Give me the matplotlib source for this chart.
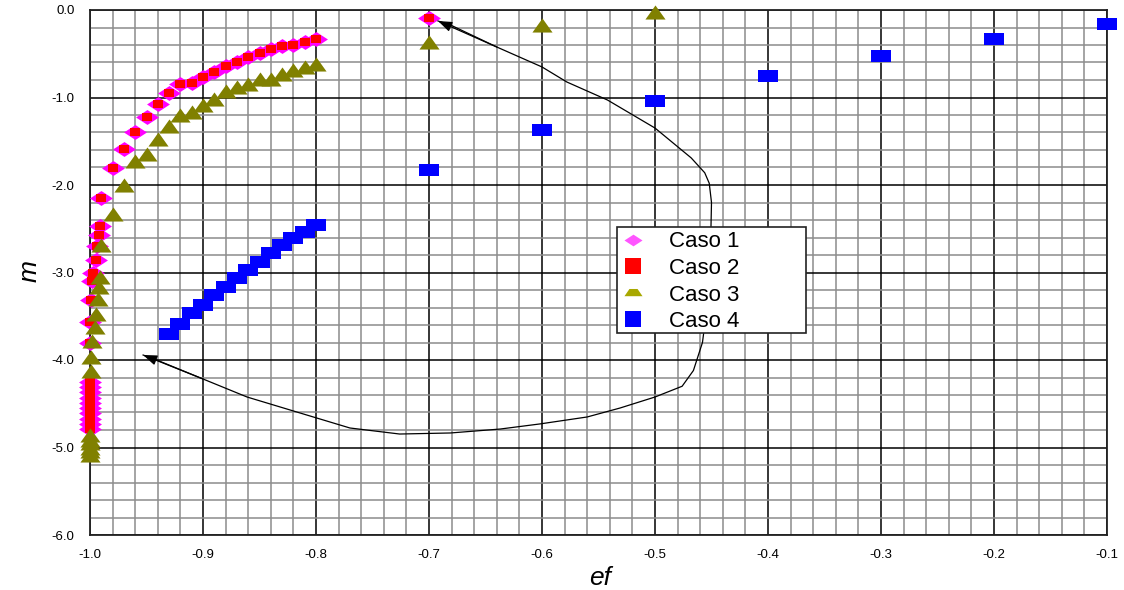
#!/usr/bin/env python3
"""Recreate the ef-m scatter chart (Casos 1-4) with matplotlib."""
import matplotlib
matplotlib.use("Agg")
import matplotlib.pyplot as plt
from matplotlib.lines import Line2D
from matplotlib.patches import Rectangle
from matplotlib.ticker import MultipleLocator, FormatStrFormatter

plt.rcParams["font.family"] = ["Liberation Sans", "DejaVu Sans"]

# --- data ---
caso1_x = [-0.70, -0.80, -0.81, -0.82, -0.83, -0.84, -0.85, -0.86, -0.87, -0.88,
           -0.89, -0.90, -0.91, -0.92, -0.93, -0.94, -0.95, -0.96, -0.97, -0.98,
           -0.99, -0.991, -0.992, -0.994, -0.995, -0.997, -0.998, -0.999, -1.0, -1.0,
           -1.0, -1.0, -1.0, -1.0, -1.0, -1.0, -1.0, -1.0, -1.0, -1.0]
caso1_y = [-0.09, -0.33, -0.37, -0.40, -0.41, -0.45, -0.49, -0.54, -0.59, -0.64,
           -0.71, -0.77, -0.83, -0.84, -0.95, -1.07, -1.22, -1.39, -1.59, -1.81,
           -2.15, -2.47, -2.57, -2.70, -2.86, -3.01, -3.10, -3.31, -3.56, -3.81,
           -4.25, -4.31, -4.37, -4.43, -4.49, -4.55, -4.61, -4.67, -4.73, -4.79]

caso2_x = list(caso1_x)
caso2_y = list(caso1_y)

caso3_x = [-0.50, -0.60, -0.70, -0.80, -0.81, -0.82, -0.83, -0.84, -0.85, -0.86,
           -0.87, -0.88, -0.89, -0.90, -0.91, -0.92, -0.93, -0.94, -0.95, -0.96,
           -0.97, -0.98, -0.99, -0.991, -0.992, -0.993, -0.995, -0.996, -0.998, -0.999,
           -0.999, -1.0, -1.0, -1.0, -1.0, -1.0, -1.0]
caso3_y = [-0.02, -0.17, -0.36, -0.62, -0.65, -0.69, -0.73, -0.79, -0.79, -0.84,
           -0.88, -0.93, -1.02, -1.09, -1.17, -1.20, -1.33, -1.47, -1.64, -1.73,
           -2.00, -2.33, -2.69, -3.05, -3.17, -3.30, -3.47, -3.62, -3.78, -3.96,
           -4.13, -4.86, -4.91, -4.95, -5.00, -5.04, -5.08]

caso4_x = [-0.10, -0.20, -0.30, -0.40, -0.50, -0.60, -0.70, -0.80, -0.81, -0.82,
           -0.83, -0.84, -0.85, -0.86, -0.87, -0.88, -0.89, -0.90, -0.91, -0.92, -0.93]
caso4_y = [-0.16, -0.33, -0.53, -0.75, -1.04, -1.37, -1.83, -2.46, -2.54, -2.61,
           -2.69, -2.78, -2.88, -2.97, -3.06, -3.17, -3.26, -3.37, -3.46, -3.59, -3.70]

labels = ["Caso 1", "Caso 2", "Caso 3", "Caso 4"]

# hand-drawn loop arrow (annotation), in data coordinates
loop_x = [-0.953, -0.941, -0.900, -0.861, -0.814, -0.770, -0.726, -0.681, -0.637,
          -0.602, -0.560, -0.531, -0.500, -0.476, -0.466, -0.458, -0.453, -0.451,
          -0.450, -0.452, -0.456, -0.468, -0.500, -0.542, -0.578, -0.600, -0.640,
          -0.681, -0.692]
loop_y = [-3.943, -4.000, -4.217, -4.423, -4.606, -4.777, -4.846, -4.834, -4.789,
          -4.731, -4.651, -4.549, -4.423, -4.300, -4.120, -3.800, -3.300, -2.800,
          -2.200, -1.980, -1.860, -1.690, -1.349, -1.029, -0.823, -0.651, -0.423,
          -0.171, -0.126]

# wide markers (the original picture is stretched horizontally)
DIAMOND = [(-1, 0), (0, -0.65), (1, 0), (0, 0.65)]
RECT = [(-1, -0.68), (1, -0.68), (1, 0.68), (-1, 0.68)]
TRI = [(-1, -0.7), (1, -0.7), (0, 0.7)]
LEG_TRI = [(-1, -0.3), (1, -0.3), (0.45, 0.5), (-0.45, 0.5)]

W, H = 1124, 590
fig = plt.figure(figsize=(W / 100, H / 100), dpi=100)
ax = fig.add_axes([90 / W, 55 / H, (1107 - 90) / W, (535 - 10) / H])

ax.set_xlim(-1.0, -0.1)
ax.set_ylim(-6.0, 0.0)
ax.xaxis.set_major_locator(MultipleLocator(0.1))
ax.xaxis.set_minor_locator(MultipleLocator(0.02))
ax.yaxis.set_major_locator(MultipleLocator(1.0))
ax.yaxis.set_minor_locator(MultipleLocator(0.2))
ax.xaxis.set_major_formatter(FormatStrFormatter("%.1f"))
ax.yaxis.set_major_formatter(FormatStrFormatter("%.1f"))
ax.grid(which="minor", color="#8c8c8c", lw=1.1)
ax.grid(which="major", color="black", lw=1.1)
ax.set_axisbelow(True)
ax.tick_params(which="both", length=0, labelsize=9.5)
ax.tick_params(axis="x", pad=10)
ax.tick_params(axis="y", pad=11)
for s in ax.spines.values():
    s.set_color("#222222")
    s.set_linewidth(1.3)

ax.plot(caso1_x, caso1_y, ls="none", marker=DIAMOND, ms=16.5, color="#FF00FF",
        mew=0, clip_on=False, zorder=3)
ax.plot(caso2_x, caso2_y, ls="none", marker=RECT, ms=7.5, color="#FF0000",
        mew=0, clip_on=False, zorder=4)
ax.plot(caso3_x, caso3_y, ls="none", marker=TRI, ms=14.5, color="#808000",
        mew=0, clip_on=False, zorder=5)
ax.plot(caso4_x, caso4_y, ls="none", marker=RECT, ms=13.7, color="#0000FF",
        mew=0, clip_on=False, zorder=6)

# loop with arrowheads at both ends
ax.plot(loop_x, loop_y, color="black", lw=0.9, zorder=7)
head = dict(arrowstyle="-|>,head_length=0.6,head_width=0.22", color="black",
            lw=0.9, mutation_scale=14, shrinkA=0, shrinkB=0)
ax.annotate("", xy=(loop_x[0], loop_y[0]), xytext=(loop_x[2], loop_y[2]),
            arrowprops=head, zorder=7)
ax.annotate("", xy=(loop_x[-1], loop_y[-1]), xytext=(loop_x[-3], loop_y[-3]),
            arrowprops=head, zorder=7)

# axis titles
fig.text(600 / W, 1 - 578 / H, "ef", fontsize=19, style="italic",
         ha="center", va="center")
fig.text(30 / W, 1 - 271 / H, "m", fontsize=19, style="italic",
         rotation=90, ha="center", va="center")

# legend: plain white box with a thin dark frame
fig.patches.append(Rectangle((617 / W, 1 - 333 / H), (806 - 617) / W, (333 - 227) / H,
                             transform=fig.transFigure, facecolor="white",
                             edgecolor="#222222", lw=1.2, zorder=8))
handles = [
    Line2D([], [], ls="none", marker=DIAMOND, ms=13, color="#FF55FF", mew=0),
    Line2D([], [], ls="none", marker="s", ms=12, color="#FF0000", mew=0),
    Line2D([], [], ls="none", marker=LEG_TRI, ms=13, color="#A8A800", mew=0),
    Line2D([], [], ls="none", marker="s", ms=12, color="#0000FF", mew=0),
]
leg = fig.legend(handles, labels, loc="upper left",
                 bbox_to_anchor=(620 / W, 1 - 227 / H), borderaxespad=0,
                 fontsize=16, frameon=False,
                 handlelength=0.8, handletextpad=1.2, labelspacing=0.25,
                 borderpad=0.2)
leg.set_zorder(9)

fig.savefig("out.png", dpi=100)
